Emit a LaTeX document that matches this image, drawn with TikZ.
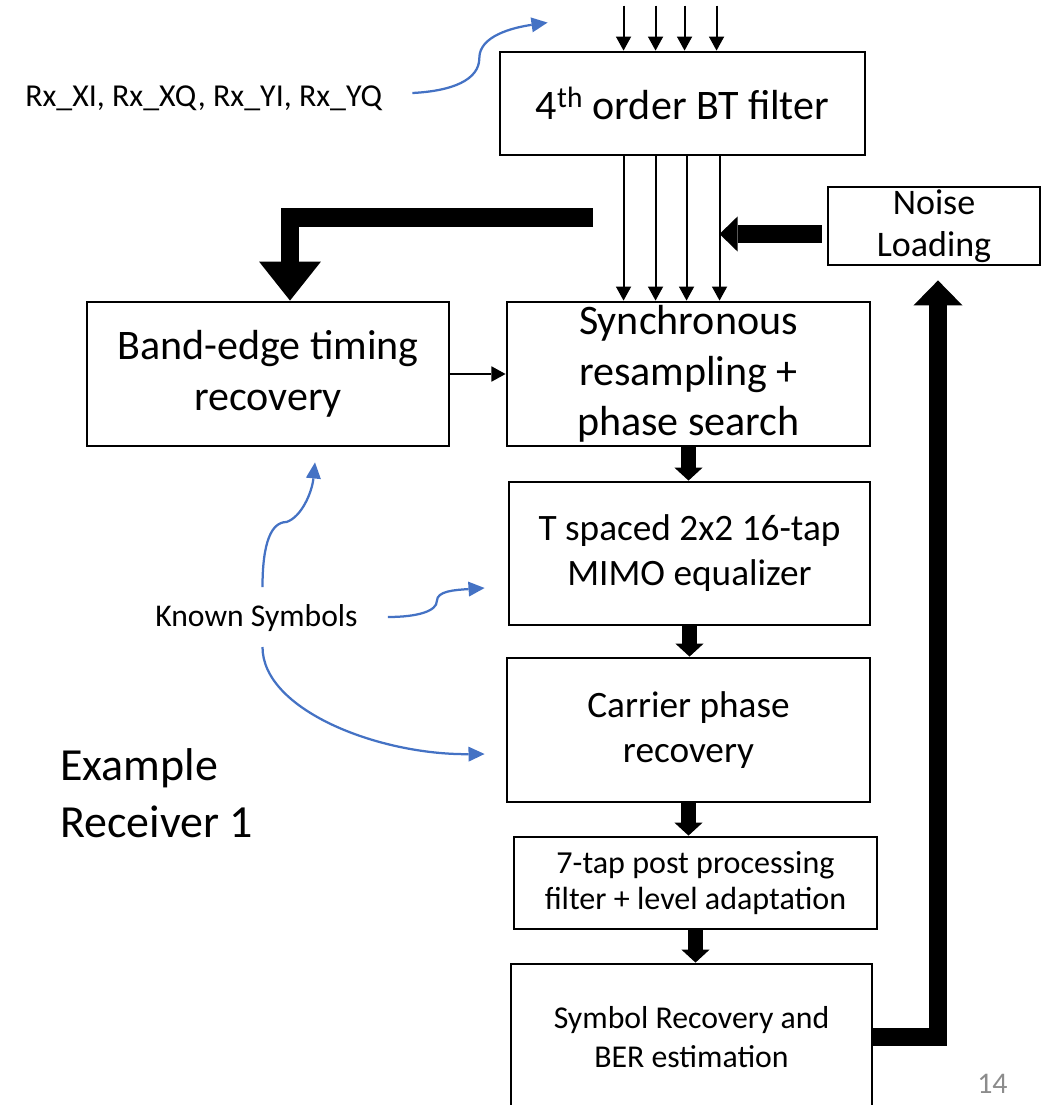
\documentclass[tikz,border=0pt]{standalone}
\usepackage{fontspec}
\setmainfont{Carlito}
\usetikzlibrary{arrows.meta}
\definecolor{sigblue}{RGB}{68,114,196}
\definecolor{pagegray}{RGB}{140,140,140}
\tikzset{
    block/.style={
        draw, line width=2pt,
        inner sep=0pt,
        align=center
    },
    bigfont/.style={font=\fontsize{29.9}{36}\selectfont},
    midfont/.style={font=\fontsize{26.5}{32}\selectfont},
    smallfont/.style={font=\fontsize{22.7}{26.5}\selectfont},
    line/.style={-{Triangle[width=11pt, length=10pt, line width=0pt]}, line width=1.4pt},
    fat/.style={-{Triangle[width=20pt, length=9.2pt, line width=0pt]}, line width=10.7pt},
    known/.style={-{Triangle[width=10.7pt, length=11.4pt, line width=0pt]}, line width=1.6pt, sigblue}
}
\begin{document}
\begin{tikzpicture}[x=0.025cm, y=-0.025cm]
\useasboundingbox (0,0) rectangle (1048,1105);

% Blocks
\node[block, bigfont, minimum width=9.125cm, minimum height=2.575cm] (bt) at (682.5,103.5) {4\textsuperscript{th} order BT filter};
\node[block, font=\fontsize{25.6}{30}\selectfont, minimum width=5.3cm, minimum height=1.95cm] (noise) at (934,226) {Noise\\Loading};
\node[block, bigfont, minimum width=9.05cm, minimum height=3.6cm] (band) at (268,374) {Band-edge timing\\recovery};
\node[block, bigfont, minimum width=9.075cm, minimum height=3.6cm] (sync) at (688.5,374) {Synchronous\\resampling +\\phase search};
\node[block, midfont, minimum width=9.025cm, minimum height=3.575cm] (tsp) at (689.5,553.5) {T spaced 2x2 16-tap\\MIMO equalizer};
\node[block, midfont, minimum width=9.075cm, minimum height=3.6cm] (carrier) at (688.5,730) {Carrier phase\\recovery};
\node[block, font=\fontsize{22.8}{25.6}\selectfont, minimum width=9.075cm, minimum height=2.3cm] (post) at (695.5,883) {7-tap post processing\\filter + level adaptation};
\node[block, font=\fontsize{22.6}{27.7}\selectfont, minimum width=9.025cm, minimum height=3.65cm] (symb) at (691.5,1037) {Symbol Recovery and\\BER estimation};

% Labels
\node[anchor=west, inner sep=0pt, smallfont] (rx) at (25,98) {Rx\_XI, Rx\_XQ, Rx\_YI, Rx\_YQ};
\node[inner sep=0pt, font=\fontsize{22.5}{26}\selectfont] (ks) at (256.5,618) {Known Symbols};
\node[anchor=west, align=left, inner sep=0pt, font=\fontsize{32.7}{40.5}\selectfont] (title) at (60,793) {Example\\Receiver 1};
\node[anchor=north west, inner sep=0pt, text=pagegray, font=\fontsize{21.3}{25}\selectfont] (page) at (977,1074) {14};

% Thin lines
\foreach \x in {125,157,186,218}
    \draw[line] (bt.north west) ++(\x,-45) -- ++(0,45);
\foreach \x in {125,157,188,221}
    \draw[line] (bt.south west) ++(\x,0) coordinate (o\x) -- (o\x |- sync.north);
\draw[line] (band.east) -- (sync.west);

% Fat arrows
\coordinate (lstart) at (593,217.5);
\draw[fat, line width=13.5pt, -{Triangle[width=44pt, length=27.7pt, line width=0pt]}] (lstart) -| ([shift={(22,0)}]band.north);
\coordinate (nin) at ([shift={(-5,8)}]noise.west);
\draw[fat, line width=12.8pt, -{Triangle[width=24.9pt, length=12.8pt, line width=0pt]}] (nin) -- (nin -| o221);
\draw[fat] (sync.south) -- (sync.south |- tsp.north);
\draw[fat] (tsp.south) -- (tsp.south |- carrier.north);
\draw[fat] (carrier.south) -- (carrier.south |- post.north);
\draw[fat] (post.south) -- (post.south |- symb.north);
\draw[fat, line width=12.8pt, -{Triangle[width=34.9pt, length=17.8pt, line width=0pt]}] (symb.east) -| ([shift={(4,14)}]noise.south);

% Blue curves
\draw[known] ([shift={(30,-5)}]rx.east) .. controls +(40,-2) and +(0,22) .. ++(67,-35)
    .. controls +(0,-22) and +(-35,5) .. ([shift={(49,-28)}]bt.north west);
\draw[known] ([shift={(6,-31)}]ks.center) .. controls +(0,-45) and +(-15,0) .. ++(24,-65)
    .. controls +(15,-5) and +(-3,30) .. ([shift={(47,15)}]band.south);
\draw[known] ([shift={(30,-1)}]ks.east) .. controls +(30,0) and +(0,10) .. ++(49,-16)
    .. controls +(0,-10) and +(-30,2) .. ([shift={(-23,34.5)}]tsp.west);
\draw[known] ([shift={(6,29)}]ks.center) .. controls +(0,63) and +(-106,1) .. ([shift={(-21,24)}]carrier.west);

\end{tikzpicture}
\end{document}
